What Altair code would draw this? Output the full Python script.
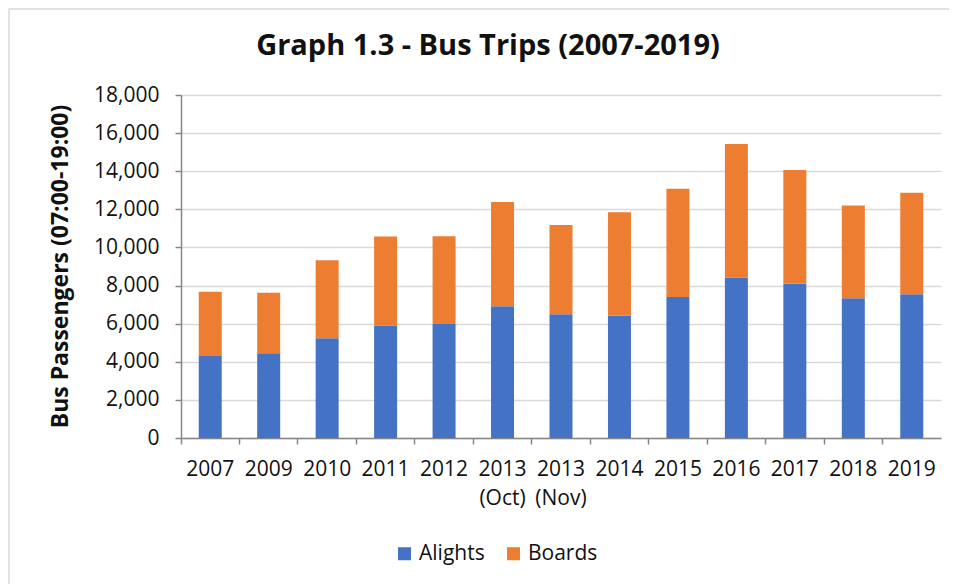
import altair as alt
import pandas as pd

years = ["2007", "2009", "2010", "2011", "2012", "2013 (Oct)", "2013 (Nov)",
         "2014", "2015", "2016", "2017", "2018", "2019"]
alights = [4300, 4450, 5240, 5890, 5980, 6920, 6500, 6420, 7400, 8410, 8100, 7340, 7550]
boards = [3380, 3170, 4090, 4680, 4610, 5460, 4680, 5430, 5680, 7020, 5960, 4860, 5320]
series = ["Alights", "Boards"]
colors = ["#4472C4", "#ED7D31"]

rows = []
for y, a, b in zip(years, alights, boards):
    rows.append({"year": y, "type": "Alights", "value": a, "ord": 0})
    rows.append({"year": y, "type": "Boards", "value": b, "ord": 1})
df = pd.DataFrame(rows)

FONT = "Open Sans"
TXT = "#111111"

bars = alt.Chart(df).mark_bar(size=23).encode(
    x=alt.X("year:N", sort=years,
            scale=alt.Scale(paddingInner=0, paddingOuter=0),
            axis=alt.Axis(title=None, labelAngle=0, bandPosition=0,
                          labelExpr="split(datum.label, ' ')",
                          labelFont=FONT, labelFontSize=21, labelColor=TXT,
                          labelLineHeight=29, labelBaseline="top", labelPadding=14,
                          tickSize=6, tickColor="#868686", tickWidth=1.5,
                          domainColor="#868686", domainWidth=1.5, grid=False)),
    y=alt.Y("value:Q", stack="zero",
            scale=alt.Scale(domain=[0, 18000], nice=False),
            axis=alt.Axis(title="Bus Passengers (07:00-19:00)", values=list(range(0, 18001, 2000)),
                          format=",.0f", labelFont=FONT, labelFontSize=21, labelColor=TXT,
                          labelPadding=16, tickSize=6, tickColor="#868686", tickWidth=1.5,
                          domainColor="#868686", domainWidth=1.5,
                          gridColor="#D9D9D9", gridWidth=1.5,
                          titleFont=FONT, titleFontSize=23, titleFontWeight="bold",
                          titleColor=TXT, titleX=-121, titleY=171,
                          titleAlign="center", titleBaseline="middle", titleAngle=270)),
    color=alt.Color("type:N", scale=alt.Scale(domain=series, range=colors),
                    legend=alt.Legend(title=None, orient="none", direction="horizontal",
                                      legendX=213, legendY=448,
                                      symbolType="square", symbolSize=169,
                                      symbolStrokeWidth=0,
                                      labelFont=FONT, labelFontSize=21, labelColor=TXT,
                                      columnPadding=18, labelOffset=4)),
    order=alt.Order("ord:Q", sort="ascending"),
)

border = alt.Chart(alt.Data(values=[{}])).mark_rect(
    filled=False, stroke="#D9D9D9", strokeWidth=1.5
).encode(
    x=alt.value(-172), x2=alt.value(769), y=alt.value(-86), y2=alt.value(500)
)

chart = alt.layer(bars, border).properties(
    width=760, height=343,
    autosize=alt.AutoSizeParams(type="none"),
    padding={"left": 173, "top": 87, "right": 8, "bottom": 146},
    title=alt.TitleParams("Graph 1.3 - Bus Trips (2007-2019)", font=FONT, fontSize=29,
                          fontWeight="bold", color=TXT, anchor="middle", dx=-73, offset=-53),
).configure_view(stroke=None)

chart.save("out.html", embed_options={"renderer": "svg", "actions": False})
